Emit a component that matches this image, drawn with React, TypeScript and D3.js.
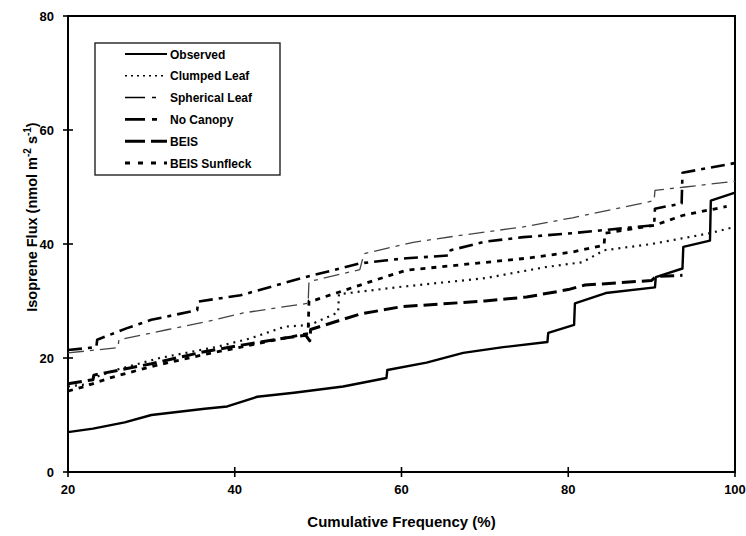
import React from "react";
import * as d3 from "d3";

const xTicks = [20, 40, 60, 80, 100];
const yTicks = [0, 20, 40, 60, 80];

const seriesNames = ["Observed", "Clumped Leaf", "Spherical Leaf", "No Canopy", "BEIS", "BEIS Sunfleck"];

const observed: [number, number][] = [
  [20, 7.0], [23, 7.6], [26.8, 8.7], [30, 10], [36.4, 11.1], [39.1, 11.5], [42.7, 13.2], [47.1, 13.9],
  [53, 15], [58.2, 16.5], [58.3, 17.9], [63, 19.2], [67.4, 20.9], [72.2, 21.9], [77.5, 22.8], [77.6, 24.4],
  [80.7, 25.8], [80.8, 29.6], [84.5, 31.4], [90.4, 32.4], [90.5, 34.2], [93.7, 35.7], [93.8, 39.5],
  [97, 40.6], [97.1, 47.6], [100, 49],
];

const clumpedLeaf: [number, number][] = [
  [20, 15], [22.9, 15.5], [23, 16.5], [26, 18], [31, 20], [38, 22], [42, 23.5], [46, 25.5], [49, 25.8],
  [52.4, 28], [52.5, 31.2], [60, 32.5], [70, 34], [77.5, 36], [81.7, 36.8], [84.3, 38.9], [90, 40],
  [97, 41.9], [100, 43],
];

const sphericalLeaf: [number, number][] = [
  [20, 20.9], [26, 21.8], [26.1, 23.2], [32, 25], [37, 26.5], [41, 27.9], [46, 29], [48.8, 29.6],
  [48.9, 33.4], [55, 35.5], [55.5, 38.3], [61.4, 40.3], [67, 41.5], [74.6, 43], [80.5, 44.6],
  [90.3, 47.6], [90.4, 49.4], [94, 50], [100, 51],
];

const noCanopy: [number, number][] = [
  [20, 21.4], [23.4, 21.9], [23.5, 23.2], [27, 25.2], [30, 26.7], [35.5, 28.4], [35.6, 29.9], [40.7, 31],
  [48, 34], [55, 36.6], [58, 37.1], [60.6, 37.5], [65.8, 38], [65.9, 38.9], [70, 40.4], [74.6, 41.2],
  [80.5, 41.9], [90.3, 43.3], [90.4, 46.2], [93.6, 47.1], [93.7, 52.5], [100, 54.2],
];

const beis: [number, number][] = [
  [20, 15.5], [23, 16.2], [23.1, 17], [30, 19], [36, 21], [41, 22.3], [46, 23.5], [48.5, 24], [49, 23],
  [49.1, 25], [55, 27.7], [60, 29], [65, 29.5], [70, 30], [75, 30.7], [80, 32], [82, 32.8], [90, 33.6],
  [90.5, 34.3], [93.7, 34.5],
];

const beisSunfleck: [number, number][] = [
  [20, 14.2], [22, 15], [25, 16.5], [30, 18.5], [36, 20.5], [41, 22], [46, 23.5], [48.8, 24.3],
  [48.9, 30], [49.7, 30.2], [56.7, 33.6], [60.6, 35.4], [75, 37.5], [80.5, 38.6], [84.3, 39.8],
  [84.4, 41.9], [90.4, 43.3], [93.7, 45], [99, 46.6],
];

const seriesData = [observed, clumpedLeaf, sphericalLeaf, noCanopy, beis, beisSunfleck];

const styles = [
  { stroke: "#000", width: 2.4, dash: "none" },
  { stroke: "#111", width: 2.2, dash: "2,5" },
  { stroke: "#444", width: 1.3, dash: "16,6,4,6" },
  { stroke: "#000", width: 2.6, dash: "14,6,4,6" },
  { stroke: "#000", width: 3, dash: "14,6" },
  { stroke: "#000", width: 2.8, dash: "5,6" },
];
const legendStyles = [
  { width: 2.2, dash: "none" },
  { width: 1.5, dash: "2,4" },
  { width: 1.5, dash: "20,7,4,20" },
  { width: 2.6, dash: "20,7,5,20" },
  { width: 3, dash: "20,6" },
  { width: 3, dash: "5,8" },
];

export default function App() {
  const W = 746, H = 536;
  const x = d3.scaleLinear().domain([20, 100]).range([68, 735]);
  const y = d3.scaleLinear().domain([0, 80]).range([472, 16]);
  const line = d3.line<[number, number]>().x((d) => x(d[0])).y((d) => y(d[1]));
  const font = "'Liberation Sans', Arial, sans-serif";

  const lgX = 95, lgY = 43, lgW = 185, lgH = 132;
  const rowY = (i: number) => 54 + i * 21.8;

  return (
    <svg width={W} height={H} style={{ position: "absolute", left: 0, top: 0, background: "#fff" }} fontFamily={font}>
      <rect x={0} y={0} width={W} height={H} fill="#fff" />
      {/* frame */}
      <rect x={x(20)} y={y(80)} width={x(100) - x(20)} height={y(0) - y(80)} fill="none" stroke="#000" strokeWidth={2} />
      {/* series */}
      {seriesData.map((d, i) => (
        <path key={i} d={line(d) || ""} fill="none" stroke={styles[i].stroke} strokeWidth={styles[i].width}
          strokeDasharray={styles[i].dash} strokeLinejoin="round" />
      ))}
      {/* x ticks */}
      {xTicks.map((t) => (
        <g key={"x" + t}>
          <line x1={x(t)} x2={x(t)} y1={y(0) - 5} y2={y(0) + 5} stroke="#000" strokeWidth={1.6} />
          <text x={x(t)} y={y(0) + 22} textAnchor="middle" fontSize={13} fontWeight="bold">{t}</text>
        </g>
      ))}
      {/* y ticks */}
      {yTicks.map((t) => (
        <g key={"y" + t}>
          <line x1={x(20) - 5} x2={x(20) + 5} y1={y(t)} y2={y(t)} stroke="#000" strokeWidth={1.6} />
          <text x={x(20) - 14} y={y(t) + 5} textAnchor="end" fontSize={13} fontWeight="bold">{t}</text>
        </g>
      ))}
      {/* axis titles */}
      <text x={(x(20) + x(100)) / 2} y={527} textAnchor="middle" fontSize={15} fontWeight="bold">Cumulative Frequency (%)</text>
      <text transform={`translate(37,${(y(0) + y(80)) / 2 - 27}) rotate(-90)`} textAnchor="middle" fontSize={14.5} fontWeight="bold">
        Isoprene Flux (nmol m<tspan dy={-6} fontSize={10}>-2</tspan><tspan dy={6}> s</tspan><tspan dy={-6} fontSize={10}>-1</tspan><tspan dy={6}>)</tspan>
      </text>
      {/* legend */}
      <rect x={lgX} y={lgY} width={lgW} height={lgH} fill="#fff" stroke="#222" strokeWidth={1.4} />
      {seriesNames.map((n, i) => (
        <g key={n}>
          <line x1={125} x2={167} y1={rowY(i)} y2={rowY(i)} stroke="#000" strokeWidth={legendStyles[i].width}
            strokeDasharray={legendStyles[i].dash} />
          <text x={170} y={rowY(i) + 4.5} fontSize={12} fontWeight="bold">{n}</text>
        </g>
      ))}
    </svg>
  );
}
